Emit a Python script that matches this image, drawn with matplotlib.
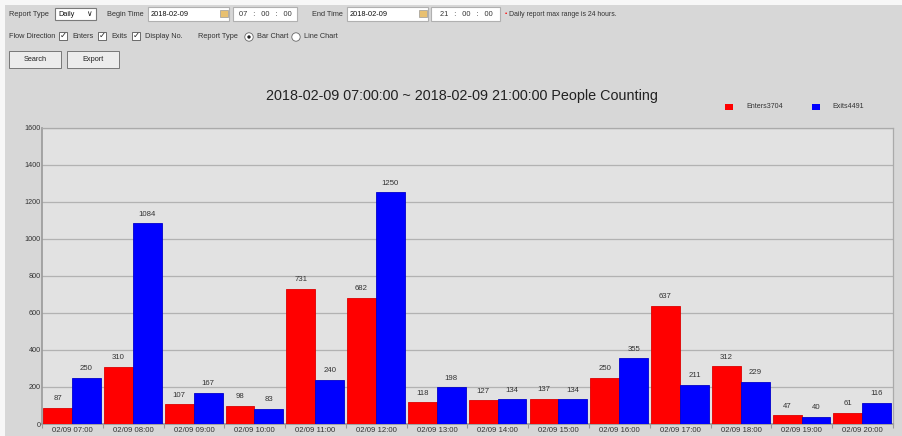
import numpy as np
import matplotlib
matplotlib.use('Agg')
import matplotlib.pyplot as plt
from matplotlib.patches import Rectangle, Ellipse

plt.rcParams['font.family'] = ['Liberation Sans', 'DejaVu Sans']

hours = ['02/09 07:00', '02/09 08:00', '02/09 09:00', '02/09 10:00', '02/09 11:00',
         '02/09 12:00', '02/09 13:00', '02/09 14:00', '02/09 15:00', '02/09 16:00',
         '02/09 17:00', '02/09 18:00', '02/09 19:00', '02/09 20:00']
enters = [87, 310, 107, 98, 731, 682, 118, 127, 137, 250, 637, 312, 47, 61]
exits = [250, 1084, 167, 83, 240, 1250, 198, 134, 134, 355, 211, 229, 40, 116]
y_ticks = [0, 200, 400, 600, 800, 1000, 1200, 1400, 1600]
title = '2018-02-09 07:00:00 ~ 2018-02-09 21:00:00 People Counting'

W, H = 903, 436
fig = plt.figure(figsize=(W / 100, H / 100), dpi=100, facecolor='#d7d7d7')
UI = 5.3


def px_rect(x, y, w, h, fc, ec='none', lw=0.8, z=1):
	# rectangle in pixel coords, y measured from top
	fig.patches.append(Rectangle((x / W, 1 - (y + h) / H), w / W, h / H,
		transform=fig.transFigure, facecolor=fc, edgecolor=ec, linewidth=lw, zorder=z))


def px_circle(x, y, r, fc, ec='none', lw=0.6):
	fig.patches.append(Ellipse((x / W, 1 - y / H), 2 * r / W, 2 * r / H,
		transform=fig.transFigure, facecolor=fc, edgecolor=ec, linewidth=lw))


def px_text(x, y, s, size=UI, color='#333333', ha='left', **kw):
	fig.text(x / W, 1 - y / H, s, fontsize=size, color=color, ha=ha, va='center', **kw)


# white page edges
px_rect(0, 0, W, 5, '#f7f7f7')
px_rect(0, 0, 5, H, '#f7f7f7')

# row 1: report type and time range
px_text(9, 14, 'Report Type')
px_rect(55, 8, 41, 12, 'white', '#7a7a7a')
px_text(58, 14, 'Daily', color='#111111')
px_text(86, 14, '\u2228', size=5.5, color='#111111')
px_text(107, 14, 'Begin Time')
px_rect(148, 7, 81, 14, 'white', '#b0b0b0')
px_text(151, 14, '2018-02-09', color='#111111')
px_rect(220, 10, 8, 7, '#e8c070', '#999999', lw=0.5)
px_rect(233, 7, 64, 14, 'white', '#b0b0b0')
px_text(265, 14, '07   :   00   :   00', ha='center')
px_text(312, 14, 'End Time')
px_rect(347, 7, 81, 14, 'white', '#b0b0b0')
px_text(350, 14, '2018-02-09', color='#111111')
px_rect(419, 10, 8, 7, '#e8c070', '#999999', lw=0.5)
px_rect(431, 7, 69, 14, 'white', '#b0b0b0')
px_text(466, 14, '21   :   00   :   00', ha='center')
px_text(505, 14, '\u2022', color='red', size=4.5)
px_text(509, 14, 'Daily report max range is 24 hours.', size=4.95)

# row 2: flow direction and chart type
px_text(9, 37, 'Flow Direction')
for cx, lab in [(59, 'Enters'), (98, 'Exits'), (132, 'Display No.')]:
	px_rect(cx, 32.5, 8, 8, 'white', '#555555', lw=0.6)
	px_text(cx + 4, 36.5, '\u2713', size=6, color='#222222', ha='center')
	px_text(cx + 13, 37, lab)
px_text(198, 37, 'Report Type')
for cx, lab, on in [(249, 'Bar Chart', True), (296, 'Line Chart', False)]:
	px_circle(cx, 37, 4.2, 'white', '#666666')
	if on:
		px_circle(cx, 37, 1.7, '#222222')
	px_text(cx + 8, 37, lab)

# row 3: buttons
for bx, lab in [(9, 'Search'), (67, 'Export')]:
	px_rect(bx, 51, 52, 17, '#ececec', '#777777', lw=0.7)
	px_text(bx + 26, 59.5, lab, ha='center', color='#222222')

# chart title and legend
px_text(462, 96, title, size=10.4, color='#222222', ha='center')
px_rect(725, 104, 8, 6, 'red')
px_text(746, 107, 'Enters3704', size=5.1)
px_rect(812, 104, 8, 6, 'blue')
px_text(832, 107, 'Exits4491', size=5.1)

# bar chart
ax = fig.add_axes([42 / W, (H - 424) / H, 851 / W, (424 - 127.5) / H])
ax.set_facecolor('#e2e2e2')
x = np.arange(len(hours))
bw = 0.475
ax.bar(x + 0.02 + bw / 2, enters, bw, color='red', edgecolor='#dd0000', linewidth=0.6, zorder=3)
ax.bar(x + 0.495 + bw / 2, exits, bw, color='blue', edgecolor='#0000cc', linewidth=0.6, zorder=3)
for i in range(len(hours)):
	ax.text(x[i] + 0.02 + bw / 2, enters[i] + 30, str(enters[i]), ha='center', va='bottom', fontsize=5.6, color='#333333')
	ax.text(x[i] + 0.495 + bw / 2, exits[i] + 30, str(exits[i]), ha='center', va='bottom', fontsize=5.6, color='#333333')

ax.set_xlim(0, len(hours))
ax.set_ylim(0, 1600)
ax.set_yticks(y_ticks)
ax.set_yticklabels([str(v) for v in y_ticks], fontsize=5.2, color='#333333')
ax.set_xticks(np.arange(len(hours) + 1))
ax.set_xticklabels([])
ax.set_xticks(x + 0.5, minor=True)
ax.set_xticklabels(hours, minor=True, fontsize=5.6, color='#333333')
ax.tick_params(axis='x', which='minor', length=0, pad=2)
ax.tick_params(axis='x', which='major', length=3, color='#999999')
ax.tick_params(axis='y', length=0, pad=1)
ax.grid(axis='y', color='#b2b2b2', linewidth=0.9, zorder=0)
for s in ['left', 'bottom']:
	ax.spines[s].set_color('#999999')
	ax.spines[s].set_linewidth(1.2)
for s in ['top', 'right']:
	ax.spines[s].set_color('#aaaaaa')
	ax.spines[s].set_linewidth(0.9)

fig.savefig('out.png', dpi=100, facecolor=fig.get_facecolor())
